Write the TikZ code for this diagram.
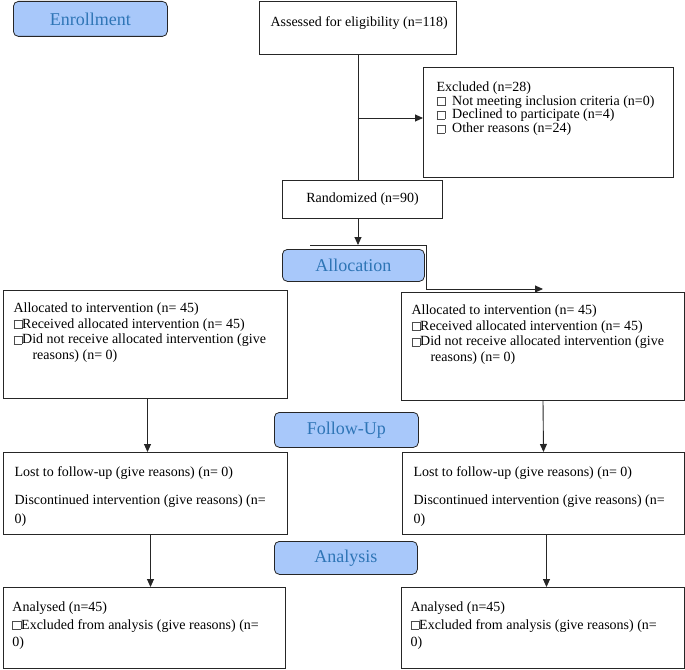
\documentclass[tikz,border=0pt]{standalone}
\usepackage{fontspec}
\setmainfont{Liberation Serif}
\usepackage{tikz}
\usetikzlibrary{arrows.meta}
\usepackage{xcolor}
\definecolor{phasefill}{RGB}{168,200,250}
\definecolor{phasetext}{RGB}{46,117,182}
\newcommand{\chk}{\textcolor{black!70}{\fboxsep=0pt\fboxrule=0.6pt\fbox{\phantom{\rule{7.5pt}{7.5pt}}}}}
\newcommand{\boxtext}[6]{\parbox[c][#2][t]{#1}{\fontsize{14}{#5}\selectfont\leftskip=#3\rightskip=0pt plus 1fil\parindent=0pt\rule{0pt}{#4}#6}}

\begin{document}
\begin{tikzpicture} [
      x = 1pt, y = -1pt,
      box/.style = { draw = black!85, line width = 1pt, inner sep = 0, anchor = north west, font = \fontsize{14}{16}\selectfont },
      phase/.style = { draw = black!85, line width = 0.8pt, rounded corners = 5pt, fill = phasefill, text = phasetext, inner sep = 0, anchor = north west, font = \fontsize{18}{20}\selectfont },
      arr/.style = { draw = black!85, line width = 0.9pt, -{Triangle[length=8pt, width=7pt]} }
      ]
    \useasboundingbox (0,0) rectangle (685,669);

    \node [phase, minimum width = 154pt, minimum height = 35pt] (enroll) at (13,1) {Enrollment};
    \node [phase, minimum width = 142pt, minimum height = 32pt] (alloc) at (282,249) {Allocation};
    \node [phase, minimum width = 144pt, minimum height = 35pt] (follow) at (274,412) {Follow-Up};
    \node [phase, minimum width = 143pt, minimum height = 33pt] (analysis) at (274,541) {Analysis};

    \node [box] (assess) at (259,1) {\boxtext{197pt}{53pt}{11pt}{25pt}{16pt}{Assessed for eligibility (n=118)}};
    \node [box] (excl) at (423,67) {\boxtext{250pt}{110pt}{13pt}{24pt}{13.7pt}{Excluded (n=28)\\
      \chk\hspace{7pt}Not meeting inclusion criteria (n=0)\\
      \chk\hspace{7pt}Declined to participate (n=4)\\
      \chk\hspace{7pt}Other reasons (n=24)}};
    \node [box, minimum width = 160pt, minimum height = 38pt] (rand) at (282,180) {Randomized (n=90)};

    \node [box] (allocL) at (3,290) {\boxtext{284pt}{108pt}{10pt}{22pt}{15.7pt}{Allocated to intervention (n= 45)\\
      \chk Received allocated intervention (n= 45)\\
      \chk Did not receive allocated intervention (give\\
      \hspace*{19pt}reasons) (n= 0)}};
    \node [box] (allocR) at (401,292) {\boxtext{283pt}{108pt}{10pt}{22pt}{15.7pt}{Allocated to intervention (n= 45)\\
      \chk Received allocated intervention (n= 45)\\
      \chk Did not receive allocated intervention (give\\
      \hspace*{19pt}reasons) (n= 0)}};

    \node [box] (fuL) at (3,452) {\boxtext{284pt}{82pt}{11pt}{24pt}{19pt}{Lost to follow-up (give reasons) (n= 0)\\[9pt]
      Discontinued intervention (give reasons) (n=\\ 0)}};
    \node [box] (fuR) at (402,452) {\boxtext{282pt}{82pt}{11pt}{24pt}{19pt}{Lost to follow-up (give reasons) (n= 0)\\[9pt]
      Discontinued intervention (give reasons) (n=\\ 0)}};

    \node [box] (anL) at (3,587) {\boxtext{282pt}{81pt}{9pt}{24pt}{17.5pt}{Analysed (n=45)\\
      \chk Excluded from analysis (give reasons) (n=\\ 0)}};
    \node [box] (anR) at (401,587) {\boxtext{283pt}{81pt}{9pt}{24pt}{17.5pt}{Analysed (n=45)\\
      \chk Excluded from analysis (give reasons) (n=\\ 0)}};

    \coordinate (exsplit) at (357.5,118);
    \coordinate (barL) at (310,245);
    \coordinate (barR) at (426,245);

    \draw [draw = black!85, line width = 0.9pt] (assess.south) -- (assess.south |- rand.north);
    \draw [arr] (exsplit) -- (exsplit -| excl.west);
    \draw [arr] (assess.south |- rand.south) -- (assess.south |- barL);
    \draw [arr] (barL) -- (barR) |- ([yshift=3pt]allocR.north);
    \draw [arr] ([xshift=2pt]allocL.south) -- ([xshift=2pt]fuL.north);
    \draw [arr] ([xshift=5pt]fuL.south) -- ([xshift=5pt]fuL.south |- anL.north);
    \draw [arr] (allocR.south) -- (fuR.north);
    \draw [arr] ([xshift=3pt]fuR.south) -- ([xshift=3pt]fuR.south |- anR.north);
\end{tikzpicture}
\end{document}
